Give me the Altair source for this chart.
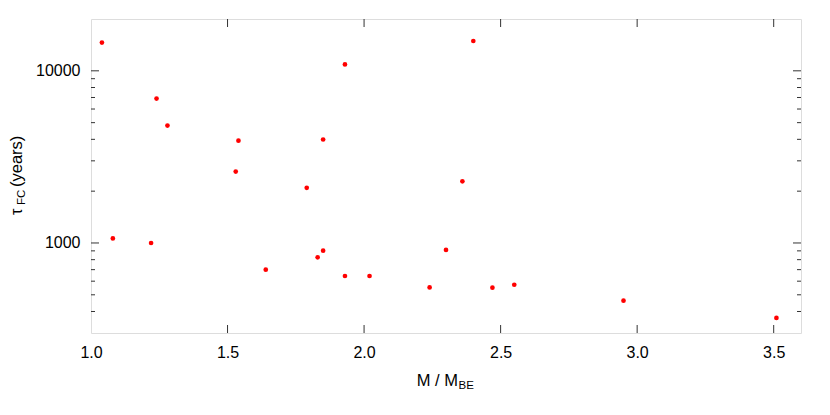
import altair as alt
import pandas as pd

# --- data ---
mass_ratio = [1.04, 1.08, 1.22, 1.24, 1.28, 1.53, 1.54, 1.64, 1.79, 1.83, 1.85, 1.85,
              1.93, 1.93, 2.02, 2.24, 2.30, 2.36, 2.40, 2.47, 2.55, 2.95, 3.51]
tau_fc = [14600, 1063, 1000, 6900, 4810, 2600, 3930, 700, 2090, 825, 902, 3990,
          10900, 643, 643, 552, 911, 2280, 14900, 550, 572, 462, 367]

x_tick_labels = [1.0, 1.5, 2.0, 2.5, 3.0, 3.5]
x_inner_ticks = [1.5, 2.0, 2.5, 3.0, 3.5]
y_major = [1000, 10000]
y_minor = [400, 500, 600, 700, 800, 900, 2000, 3000, 4000, 5000, 6000, 7000, 8000, 9000]

W, H = 710, 314
FONT = "Liberation Sans"
FRAME = "#333333"

df = pd.DataFrame({"m": mass_ratio, "tau": tau_fc})
xdf = pd.DataFrame({"m": x_inner_ticks})
ymaj = pd.DataFrame({"tau": y_major})
ymin = pd.DataFrame({"tau": y_minor})

xscale = alt.Scale(domain=[1.0, 3.6], nice=False, zero=False)
yscale = alt.Scale(type="log", domain=[300, 20000], nice=False)

points = alt.Chart(df).mark_circle(size=22, color="#ff0000", opacity=1).encode(
    x=alt.X("m:Q", scale=xscale,
            axis=alt.Axis(values=x_tick_labels, format=".1f", ticks=False, domain=False,
                          grid=False, labelFontSize=16, labelFont=FONT, labelColor="#000",
                          labelPadding=11, labelFlush=False, labelOverlap=False, title=None)),
    y=alt.Y("tau:Q", scale=yscale,
            axis=alt.Axis(values=y_major, format="d", ticks=False, domain=False,
                          grid=False, labelFontSize=16, labelFont=FONT, labelColor="#000",
                          labelPadding=11, labelFlush=False, labelOverlap=False, title=None)),
)

def yticks(data, length):
    left = alt.Chart(data).mark_rule(color=FRAME, strokeWidth=1).encode(
        y="tau:Q", x=alt.value(0), x2=alt.value(length))
    right = alt.Chart(data).mark_rule(color=FRAME, strokeWidth=1).encode(
        y="tau:Q", x=alt.value(W), x2=alt.value(W - length))
    return [left, right]

xt_bottom = alt.Chart(xdf).mark_rule(color=FRAME, strokeWidth=1).encode(
    x="m:Q", y=alt.value(H), y2=alt.value(H - 8))
xt_top = alt.Chart(xdf).mark_rule(color=FRAME, strokeWidth=1).encode(
    x="m:Q", y=alt.value(0), y2=alt.value(8))

# axis titles with subscripts
xt1 = alt.Chart(pd.DataFrame({"t": ["M / M"]})).mark_text(
    font=FONT, fontSize=16.5, align="right", baseline="alphabetic", color="#000").encode(
    text="t:N", x=alt.value(367), y=alt.value(367))
xt2 = alt.Chart(pd.DataFrame({"t": ["BE"]})).mark_text(
    font=FONT, fontSize=11.5, align="left", baseline="alphabetic", color="#000").encode(
    text="t:N", x=alt.value(367.5), y=alt.value(370))

yt1 = alt.Chart(pd.DataFrame({"t": ["τ"]})).mark_text(
    font=FONT, fontSize=16.5, align="left", baseline="alphabetic", angle=270, color="#000").encode(
    text="t:N", x=alt.value(-69), y=alt.value(196))
yt2 = alt.Chart(pd.DataFrame({"t": ["FC"]})).mark_text(
    font=FONT, fontSize=11.5, align="left", baseline="alphabetic", angle=270, color="#000").encode(
    text="t:N", x=alt.value(-66), y=alt.value(186))
yt3 = alt.Chart(pd.DataFrame({"t": ["(years)"]})).mark_text(
    font=FONT, fontSize=16.5, align="left", baseline="alphabetic", angle=270, color="#000").encode(
    text="t:N", x=alt.value(-69), y=alt.value(168))

chart = alt.layer(
    points, *yticks(ymaj, 8), *yticks(ymin, 4), xt_bottom, xt_top,
    xt1, xt2, yt1, yt2, yt3
).properties(
    width=W, height=H,
    autosize=alt.AutoSizeParams(type="none"),
    padding={"left": 83, "top": 11, "right": 21, "bottom": 70},
).configure_view(stroke=FRAME, strokeWidth=1).configure(background="white")

chart.save("out.html", embed_options={"renderer": "svg", "actions": False})
